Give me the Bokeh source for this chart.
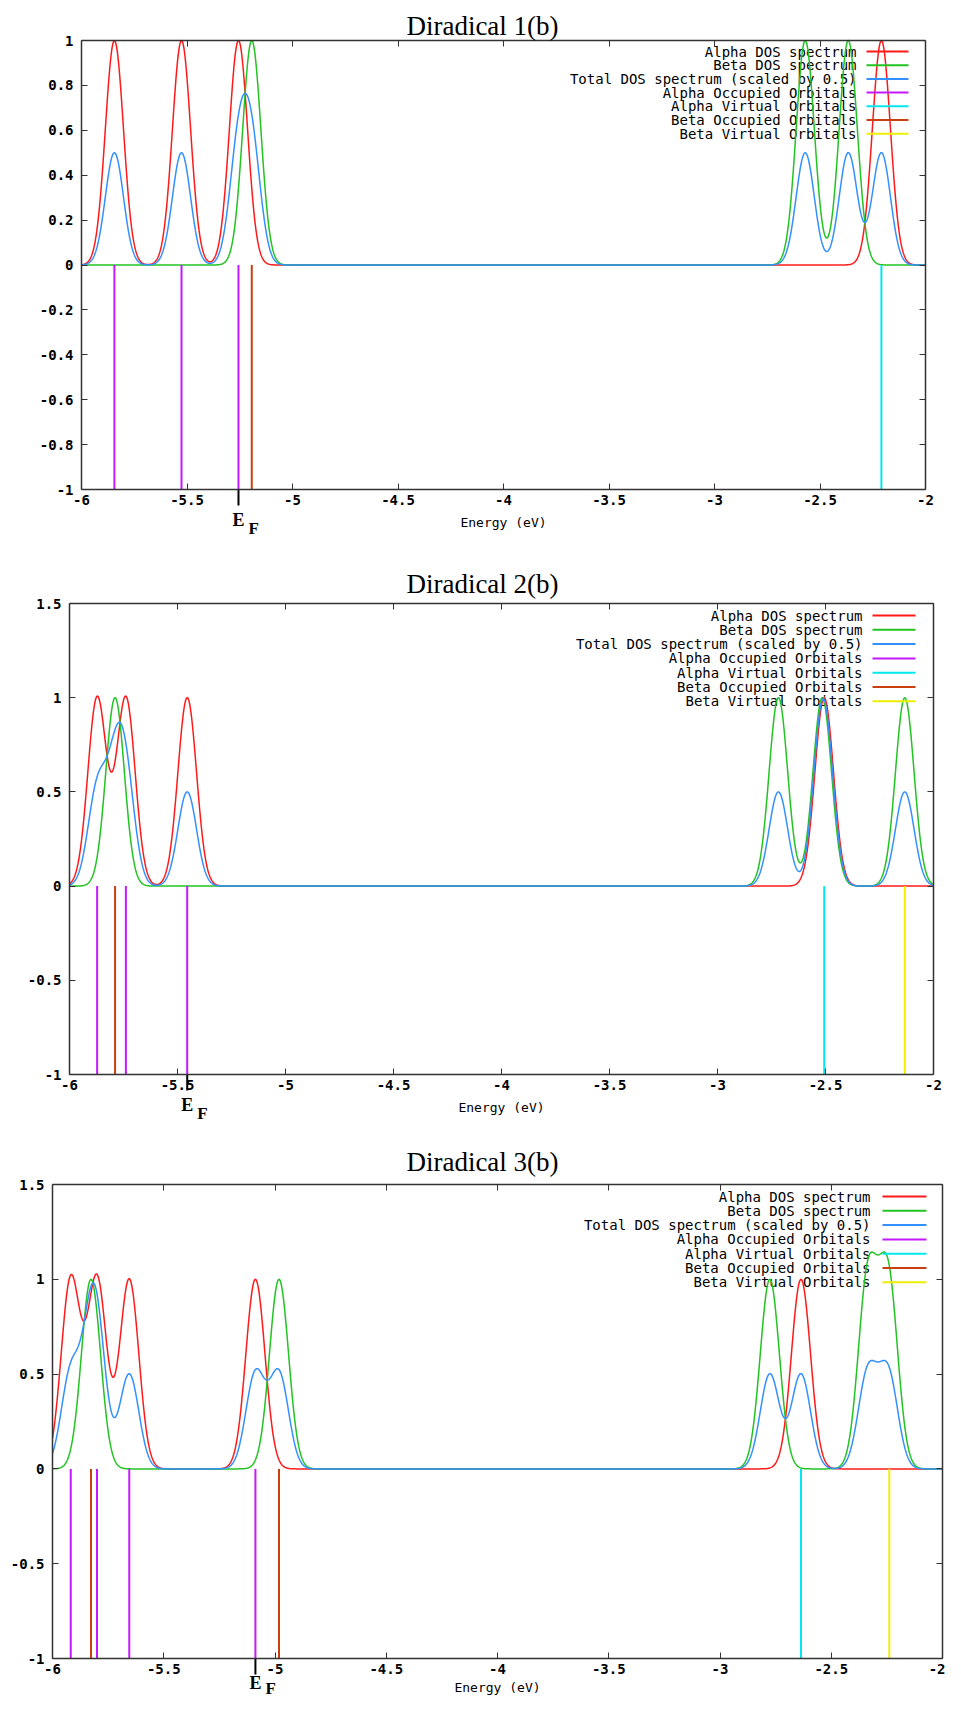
import numpy as np
from bokeh.plotting import figure
from bokeh.layouts import column
from bokeh.models import Range1d, FixedTicker, Label, LinearAxis
from bokeh.embed import file_html
from bokeh.resources import INLINE

# ---------------- data (orbital energies in eV) ----------------
titles = ["Diradical 1(b)", "Diradical 2(b)", "Diradical 3(b)"]

alpha_occ_1 = [-5.844, -5.526, -5.256]
alpha_virt_1 = [-2.209]
beta_occ_1 = [-5.193]
beta_virt_1 = [-2.570, -2.366]
beta_virt_lines_1 = []
fermi_1 = -5.256

alpha_occ_2 = [-5.872, -5.739, -5.455]
alpha_virt_2 = [-2.506]
beta_occ_2 = [-5.789]
beta_virt_2 = [-2.718, -2.515, -2.133]
beta_virt_lines_2 = [-2.133]
fermi_2 = -5.455

alpha_occ_3 = [-5.918, -5.800, -5.655, -5.088]
alpha_virt_3 = [-2.636]
beta_occ_3 = [-5.827, -4.982]
beta_virt_3 = [-2.776, -2.336, -2.244]
beta_virt_lines_3 = [-2.239]
fermi_3 = -5.088

x_ticks = [-6, -5.5, -5, -4.5, -4, -3.5, -3, -2.5, -2]
x_tick_labels = ["-6", "-5.5", "-5", "-4.5", "-4", "-3.5", "-3", "-2.5", "-2"]
y_ticks_1 = [-1, -0.8, -0.6, -0.4, -0.2, 0, 0.2, 0.4, 0.6, 0.8, 1]
y_tick_labels_1 = ["-1", "-0.8", "-0.6", "-0.4", "-0.2", "0", "0.2", "0.4", "0.6", "0.8", "1"]
y_ticks_23 = [-1, -0.5, 0, 0.5, 1, 1.5]
y_tick_labels_23 = ["-1", "-0.5", "0", "0.5", "1", "1.5"]

legend_labels = ["Alpha DOS spectrum", "Beta DOS spectrum", "Total DOS spectrum (scaled by 0.5)",
                 "Alpha Occupied Orbitals", "Alpha Virtual Orbitals", "Beta Occupied Orbitals",
                 "Beta Virtual Orbitals"]
x_label = "Energy (eV)"
total_scale = 0.5
orbital_line_value = -1.0
broadening_sigma = 0.043

# ---------------- style ----------------
C_RED, C_GREEN, C_BLUE = "#ff1a1a", "#22c322", "#3390ff"
C_MAG, C_CYAN, C_BROWN, C_YEL = "#c419ff", "#00e8ee", "#c84010", "#eeee00"
legend_colors = [C_RED, C_GREEN, C_BLUE, C_MAG, C_CYAN, C_BROWN, C_YEL]
MONO = "DejaVu Sans Mono"
SERIF = "Liberation Serif"
AXC = "#333333"
PAGE_L, PAGE_R = 8, 953

energy = np.linspace(-6, -2, 1601)


def dos(levels):
    y = np.zeros_like(energy)
    for e in levels:
        y += np.exp(-(energy - e) ** 2 / (2 * broadening_sigma ** 2))
    return y


panels = [
    dict(title=titles[0], ao=alpha_occ_1, av=alpha_virt_1, bo=beta_occ_1, bv=beta_virt_1,
         bvl=beta_virt_lines_1, ef=fermi_1, yr=(-1, 1), yt=y_ticks_1, ytl=y_tick_labels_1,
         frame=(89, 48, 933, 497), fig=(8, 554), title_base=33,
         leg=(59, 13.7, 864, 874, 916), efo=(30, 39), xlo=33),
    dict(title=titles[1], ao=alpha_occ_2, av=alpha_virt_2, bo=beta_occ_2, bv=beta_virt_2,
         bvl=beta_virt_lines_2, ef=fermi_2, yr=(-1, 1.5), yt=y_ticks_23, ytl=y_tick_labels_23,
         frame=(77, 611, 941, 1082), fig=(554, 1138), title_base=591,
         leg=(623, 14.3, 870, 880, 923), efo=(30, 39), xlo=33),
    dict(title=titles[2], ao=alpha_occ_3, av=alpha_virt_3, bo=beta_occ_3, bv=beta_virt_3,
         bvl=beta_virt_lines_3, ef=fermi_3, yr=(-1, 1.5), yt=y_ticks_23, ytl=y_tick_labels_23,
         frame=(60, 1192, 950, 1666), fig=(1138, 1705), title_base=1169,
         leg=(1204, 14.3, 878, 890, 934), efo=(24, 30), xlo=29),
]


def style_axis(ax, ticks, labels, show_labels=True):
    ax.ticker = FixedTicker(ticks=ticks)
    ax.major_label_overrides = {t: s for t, s in zip(ticks, labels)}
    ax.major_tick_in = 6
    ax.major_tick_out = 0
    ax.minor_tick_line_color = None
    ax.major_tick_line_color = AXC
    ax.major_tick_line_width = 1
    ax.axis_line_color = AXC
    ax.axis_line_width = 1.5
    ax.major_label_text_font = MONO
    ax.major_label_text_font_style = "bold"
    ax.major_label_text_font_size = "14px"
    ax.major_label_text_color = "black" if show_labels else None


def make_panel(d):
    L, T, R, B = d["frame"]
    ftop, fbot = d["fig"]
    x0, x1 = -6.0, -2.0
    y0, y1 = d["yr"]
    kx = (x1 - x0) / (R - L)
    ky = (y1 - y0) / (B - T)

    def xd(px):
        return x0 + (px - L) * kx

    def yd(py):
        return y1 - (py - T) * ky

    p = figure(width=PAGE_R - PAGE_L, height=fbot - ftop,
               x_range=Range1d(xd(PAGE_L), xd(PAGE_R)), y_range=Range1d(yd(fbot), yd(ftop)),
               x_axis_type=None, y_axis_type=None, min_border=0,
               output_backend="svg", toolbar_location=None)
    p.background_fill_color = "white"
    p.border_fill_color = "white"
    p.outline_line_color = None

    bottom = LinearAxis(fixed_location=y0, bounds=(x0, x1))
    style_axis(bottom, x_ticks, x_tick_labels)
    bottom.major_label_standoff = 5
    p.add_layout(bottom, "below")
    top = LinearAxis(fixed_location=y1, bounds=(x0, x1))
    style_axis(top, x_ticks, x_tick_labels, show_labels=False)
    p.add_layout(top, "above")
    left = LinearAxis(fixed_location=x0, bounds=(y0, y1))
    style_axis(left, d["yt"], d["ytl"])
    left.major_label_standoff = 8
    p.add_layout(left, "left")
    right = LinearAxis(fixed_location=x1, bounds=(y0, y1))
    style_axis(right, d["yt"], d["ytl"], show_labels=False)
    p.add_layout(right, "right")

    a = dos(d["ao"] + d["av"])
    b = dos(d["bo"] + d["bv"])
    tot = total_scale * (a + b)
    p.line(energy, a, line_color=C_RED, line_width=1.5)
    p.line(energy, b, line_color=C_GREEN, line_width=1.5)
    p.line(energy, tot, line_color=C_BLUE, line_width=1.5)

    for levels, col in ((d["ao"], C_MAG), (d["av"], C_CYAN), (d["bo"], C_BROWN), (d["bvl"], C_YEL)):
        if levels:
            p.segment(x0=levels, y0=[0] * len(levels), x1=levels,
                      y1=[orbital_line_value] * len(levels), line_color=col, line_width=2)

    # legend (gnuplot style: text right-aligned, sample line on the right)
    row0, dy, txt_r, s0, s1 = d["leg"]
    for k, (lab, col) in enumerate(zip(legend_labels, legend_colors)):
        yy = yd(row0 + k * dy)
        p.add_layout(Label(x=xd(txt_r), y=yy, text=lab, text_align="right", text_baseline="middle",
                           text_font=MONO, text_font_size="14px", text_color="black",
                           level="underlay"))
        p.segment(x0=[xd(s0)], y0=[yy], x1=[xd(s1)], y1=[yy], line_color=col, line_width=2)

    # title
    p.add_layout(Label(x=xd(490), y=yd(d["title_base"]), text=d["title"], text_align="center",
                       text_baseline="alphabetic", text_font=SERIF, text_font_size="27px",
                       text_color="black"))
    # axis label
    p.add_layout(Label(x=(x0 + x1) / 2, y=yd(B + d["xlo"]), text=x_label, text_align="center",
                       text_baseline="middle", text_font=MONO, text_font_size="13px",
                       text_color="black"))
    # Fermi level marker
    ef = d["ef"]
    eo, fo = d["efo"]
    p.segment(x0=[ef], y0=[y0], x1=[ef], y1=[yd(B + 16)], line_color="black", line_width=2)
    efx = L + (ef - x0) / kx
    p.add_layout(Label(x=ef, y=yd(B + eo), text="E", text_align="center", text_baseline="middle",
                       text_font=SERIF, text_font_size="18px", text_font_style="bold",
                       text_color="black"))
    p.add_layout(Label(x=xd(efx + 10), y=yd(B + fo), text="F", text_align="left",
                       text_baseline="middle", text_font=SERIF, text_font_size="17px",
                       text_font_style="bold", text_color="black"))
    return p


figs = [make_panel(d) for d in panels]
layout = column(*figs, spacing=0)
open("out.html", "w").write(file_html(layout, INLINE))
